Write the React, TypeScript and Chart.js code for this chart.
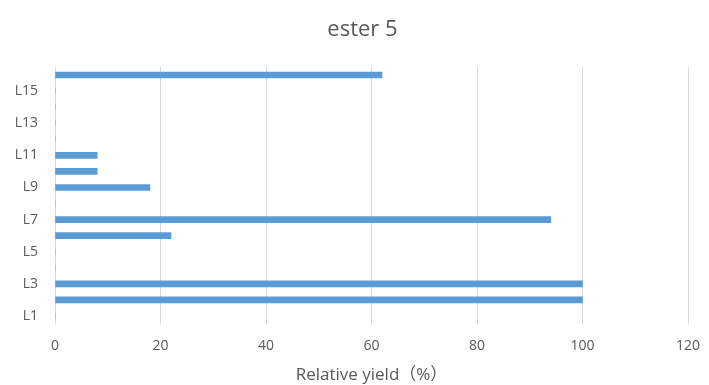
import React, { useEffect, useRef } from "react";
import { Chart, registerables } from "chart.js";

Chart.register(...registerables);

// Ligand labels, bottom (L1) to top (L16)
const ligands = ["L1", "L2", "L3", "L4", "L5", "L6", "L7", "L8", "L9", "L10", "L11", "L12", "L13", "L14", "L15", "L16"];
// Relative yield of ester 5 for each ligand, in %
const relativeYield = [0, 100, 100, 0, 0, 22, 94, 0, 18, 8, 8, 0, 0, 0, 0, 62];
const xTicks = [0, 20, 40, 60, 80, 100, 120];
const chartTitle = "ester 5";

const FONT = "'Open Sans', 'Noto Sans', 'Noto Sans CJK SC', sans-serif";
const TEXT = "#595959";

// Title drawn centred over the plot region rather than the whole canvas
const titlePlugin = {
  id: "centredTitle",
  afterDraw(chart: any) {
    const { ctx, chartArea } = chart;
    ctx.save();
    ctx.font = `22px ${FONT}`;
    ctx.fillStyle = TEXT;
    ctx.textAlign = "center";
    ctx.textBaseline = "middle";
    ctx.fillText(chartTitle, (chartArea.left + chartArea.right) / 2 - 9, 30);
    ctx.restore();
  },
};

export default function App() {
  const canvasRef = useRef<HTMLCanvasElement | null>(null);

  useEffect(() => {
    if (!canvasRef.current) return;
    const chart = new Chart(canvasRef.current, {
      type: "bar",
      data: {
        labels: ligands,
        datasets: [
          {
            label: chartTitle,
            data: relativeYield,
            backgroundColor: "#5b9bd5",
            borderWidth: 0,
            barThickness: 6,
          },
        ],
      },
      plugins: [titlePlugin],
      options: {
        indexAxis: "y",
        animation: false,
        responsive: true,
        maintainAspectRatio: false,
        layout: { padding: { left: 0, right: 21, top: 67, bottom: 0 } },
        plugins: {
          legend: { display: false },
          tooltip: { enabled: false },
          title: { display: false },
        },
        scales: {
          x: {
            min: 0,
            max: 120,
            afterBuildTicks: (scale: any) => {
              scale.ticks = xTicks.map((v) => ({ value: v }));
            },
            afterFit: (scale: any) => {
              scale.height = 61;
              scale.paddingLeft = 0;
              scale.paddingRight = 0;
            },
            grid: { color: "#d9d9d9", lineWidth: 1, drawTicks: false },
            border: { display: false },
            ticks: {
              color: TEXT,
              padding: 14,
              font: { family: FONT, size: 14 },
            },
            title: {
              display: true,
              text: "Relative yield（%）",
              color: TEXT,
              font: { family: FONT, size: 17 },
              padding: { top: 0, bottom: 0 },
            },
          },
          y: {
            reverse: true,
            afterFit: (scale: any) => {
              scale.width = 55;
            },
            grid: { display: false, drawTicks: false },
            border: { display: false },
            ticks: {
              autoSkip: false,
              color: TEXT,
              padding: 17,
              font: { family: FONT, size: 14 },
              callback: (_v: any, i: number) => (i % 2 === 0 ? ligands[i] : ""),
            },
          },
        },
      },
    });
    return () => chart.destroy();
  }, []);

  return (
    <div style={{ position: "fixed", left: 0, top: 0, width: 709, height: 385, background: "#fff" }}>
      <canvas ref={canvasRef} />
    </div>
  );
}
